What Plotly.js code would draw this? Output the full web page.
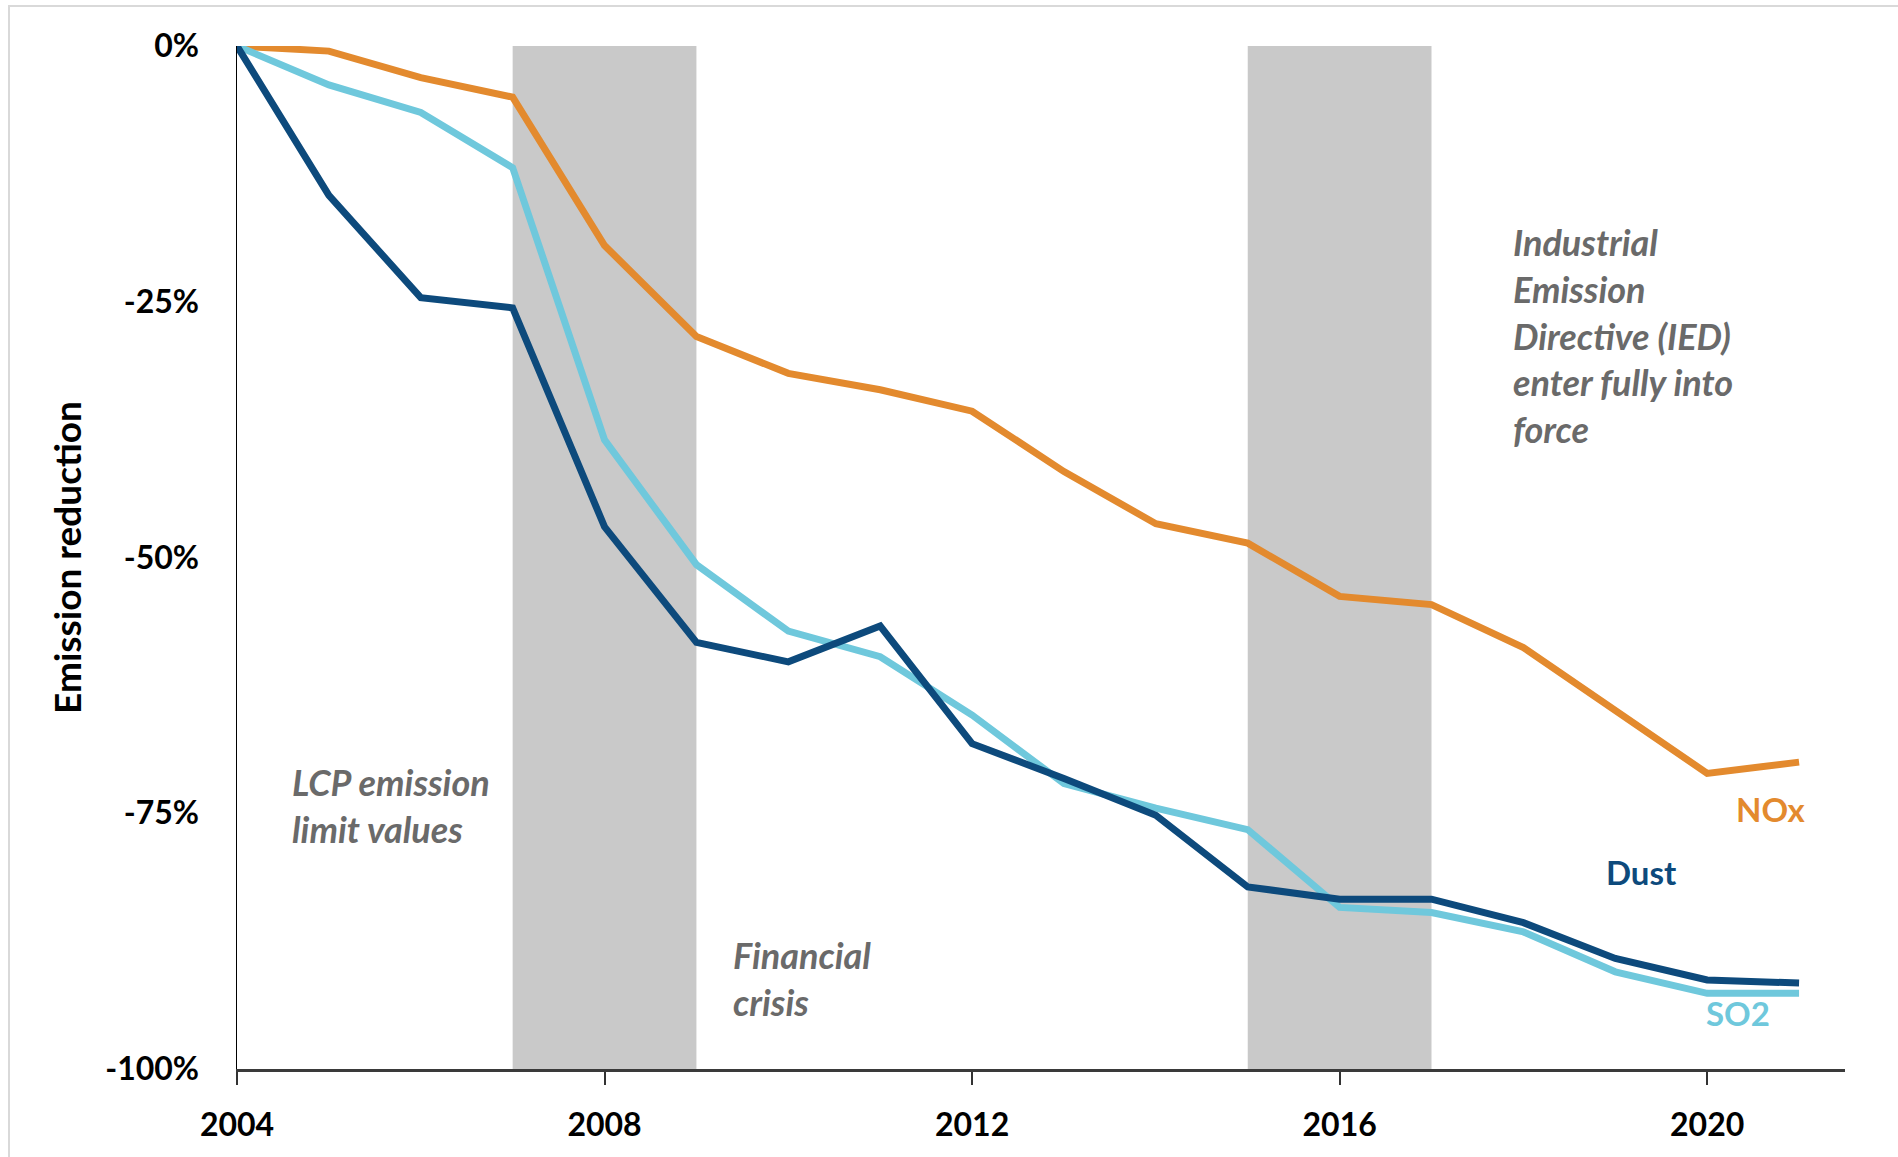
<!DOCTYPE html>
<html>
<head>
<meta charset="utf-8">
<script src="https://cdn.plot.ly/plotly-3.0.1.min.js"></script>
<style>
  html, body { margin: 0; padding: 0; background: #ffffff; }
  #wrap { position: relative; width: 1898px; height: 1157px; }
  #chart { width: 1898px; height: 1157px; }
  #frameTop { position: absolute; left: 8px; top: 5px; right: 0; height: 2px; background: #d9d9d9; }
  #frameLeft { position: absolute; left: 8px; top: 5px; bottom: 0; width: 2px; background: #d9d9d9; }
</style>
</head>
<body>
<div id="wrap">
  <div id="chart"></div>
  <div id="frameTop"></div>
  <div id="frameLeft"></div>
</div>
<script>
// Years covered
const years = [2004, 2005, 2006, 2007, 2008, 2009, 2010, 2011, 2012,
               2013, 2014, 2015, 2016, 2017, 2018, 2019, 2020, 2021];

// Emission change relative to 2004 (%)
const noxValues  = [0, -0.5, -3.1, -5.0, -19.5, -28.4, -32.0, -33.6, -35.7,
                    -41.6, -46.7, -48.6, -53.8, -54.6, -58.8, -64.9, -71.1, -70.0];
const dustValues = [0, -14.6, -24.6, -25.6, -47.0, -58.3, -60.2, -56.7, -68.2,
                    -71.6, -75.2, -82.2, -83.4, -83.4, -85.7, -89.2, -91.3, -91.6];
const so2Values  = [0, -3.8, -6.5, -11.9, -38.5, -50.7, -57.2, -59.7, -65.4,
                    -72.1, -74.5, -76.6, -84.2, -84.7, -86.6, -90.5, -92.6, -92.6];

// Axis ticks
const xTickYears = [2004, 2008, 2012, 2016, 2020];
const yTickValues = [0, -25, -50, -75, -100];
const yTickLabels = ['0%', '-25%', '-50%', '-75%', '-100%'];

// Shaded periods [start, end]
const shadedPeriods = [[2007, 2009], [2015, 2017]];

// Text notes: [x, y, text]
const notes = [
  [2004.58, -74.2, 'LCP emission<br>limit values'],
  [2009.38, -91.2, 'Financial<br>crisis'],
  [2017.86, -28.3, 'Industrial<br>Emission<br>Directive (IED)<br>enter fully into<br>force']
];

// Series labels: [x, y, text, colour]
const seriesLabels = [
  [2020.70, -74.6, 'NOx', '#E38A2E'],
  [2019.28, -80.7, 'Dust', '#0D4A7C'],
  [2020.34, -94.5, 'SO2', '#6FC8DC']
];

const FONT = 'Lato, "Open Sans", sans-serif';

function lineTrace(name, y, color) {
  return {
    type: 'scatter', mode: 'lines', name: name,
    x: years, y: y,
    line: { color: color, width: 7, shape: 'linear' },
    cliponaxis: false, hoverinfo: 'x+y'
  };
}

const data = [
  lineTrace('NOx', noxValues, '#E38A2E'),
  lineTrace('SO2', so2Values, '#6FC8DC'),
  lineTrace('Dust', dustValues, '#0D4A7C')
];

const shapes = shadedPeriods.map(p => ({
  type: 'rect', xref: 'x', yref: 'y', layer: 'below',
  x0: p[0], x1: p[1], y0: -100, y1: 0,
  fillcolor: '#C9C9C9', line: { width: 0 }
}));

const annotations = notes.map(n => ({
  x: n[0], y: n[1], xref: 'x', yref: 'y', text: n[2],
  showarrow: false, xanchor: 'left', yanchor: 'middle', align: 'left',
  font: { family: FONT, size: 36, color: '#6a6a6a', style: 'italic', weight: 'bold' }
})).concat(seriesLabels.map(s => ({
  x: s[0], y: s[1], xref: 'x', yref: 'y', text: s[2],
  showarrow: false, xanchor: 'center', yanchor: 'middle',
  font: { family: FONT, size: 33, color: s[3], weight: 'bold' }
})));

const layout = {
  width: 1898, height: 1157,
  margin: { l: 237, r: 53, t: 46, b: 88 },
  paper_bgcolor: '#ffffff', plot_bgcolor: 'rgba(0,0,0,0)',
  showlegend: false,
  font: { family: FONT, color: '#000000' },
  xaxis: {
    range: [2004, 2021.5], showgrid: false, zeroline: false,
    tickvals: xTickYears, ticktext: xTickYears.map(String),
    ticks: 'outside', ticklen: 13, tickwidth: 2, tickcolor: '#333333',
    showline: true, linecolor: '#3a3a3a', linewidth: 3,
    ticklabelstandoff: 13,
    tickfont: { family: FONT, size: 32, color: '#000000', weight: 'bold' }
  },
  yaxis: {
    range: [-100, 0], showgrid: false, zeroline: false,
    tickvals: yTickValues, ticktext: yTickLabels,
    ticks: '', showline: true, linecolor: '#000000', linewidth: 1.5,
    ticklabelstandoff: 30,
    tickfont: { family: FONT, size: 32, color: '#000000', weight: 'bold' },
    title: { text: 'Emission reduction', standoff: 12,
             font: { family: FONT, size: 37, color: '#000000', weight: 'bold' } }
  },
  shapes: shapes,
  annotations: annotations
};

Plotly.newPlot('chart', data, layout, { displayModeBar: false, staticPlot: true });
</script>
</body>
</html>
